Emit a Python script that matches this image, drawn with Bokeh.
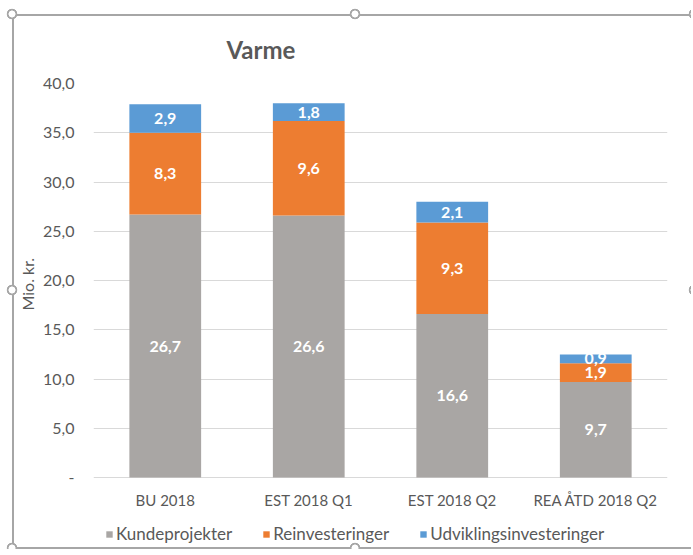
from bokeh.plotting import figure
from bokeh.models import ColumnDataSource, FixedTicker, Legend, LegendItem, Range1d, Title
from bokeh.core.properties import value
from bokeh.embed import file_html
from bokeh.resources import INLINE

# ---- data ----
categories = ["BU 2018", "EST 2018 Q1", "EST 2018 Q2", "REA ÅTD 2018 Q2"]
kundeprojekter = [26.7, 26.6, 16.6, 9.7]
reinvesteringer = [8.3, 9.6, 9.3, 1.9]
udviklingsinvesteringer = [2.9, 1.8, 2.1, 0.9]
series_names = ["Kundeprojekter", "Reinvesteringer", "Udviklingsinvesteringer"]
series_keys = ["kunde", "rein", "udv"]
colors = ["#A9A6A4", "#ED7D31", "#5B9BD5"]
y_ticks = [0, 5, 10, 15, 20, 25, 30, 35, 40]
title_text = "Varme"
y_label = "Mio. kr."

FONT = "Lato"
TXT = "#595959"
FRAME_C = "#a6a6a6"


def fmt(v):
    return f"{v:.1f}".replace(".", ",")


source = ColumnDataSource(dict(cat=categories, kunde=kundeprojekter,
                               rein=reinvesteringer, udv=udviklingsinvesteringer))

# frame extends below zero so that category labels and legend live inside it
p = figure(x_range=categories, y_range=Range1d(-6.9, 40),
           frame_width=574, frame_height=462,
           output_backend="svg", toolbar_location=None,
           min_border_left=93, min_border_right=24, min_border_top=83,
           min_border_bottom=4)
p.border_fill_color = None
p.background_fill_color = None

# chart-object selection frame (Excel style) drawn as host background
handle = ("radial-gradient(circle at {x}px {y}px, white 3.2px, {c} 3.8px, {c} 5px, "
          "transparent 5.6px)")
handles = [handle.format(x=x, y=y, c=FRAME_C) for x, y in
           [(12, 14), (355, 14), (694, 14), (12, 290), (694, 290),
            (12, 548), (355, 548)]]
line = f"linear-gradient({FRAME_C},{FRAME_C})"
p.styles = {
    "background-color": "white",
    "background-image": ", ".join(handles + [line, line, line]),
    "background-size": ", ".join(["100% 100%"] * len(handles) +
                                 ["2px 100%", "100% 2px", "100% 2px"]),
    "background-position": ", ".join(["0 0"] * len(handles) +
                                     ["12px 14px", "12px 14px", "12px 547px"]),
    "background-repeat": "no-repeat",
}

renderers = p.vbar_stack(series_keys, x="cat", width=0.5, color=colors,
                         line_color=None, source=source)

# data labels
lab_x, lab_y, lab_t = [], [], []
series_vals = [kundeprojekter, reinvesteringer, udviklingsinvesteringer]
for i, c in enumerate(categories):
    base = 0.0
    for vals in series_vals:
        v = vals[i]
        lab_x.append(c)
        lab_y.append(base + v / 2)
        lab_t.append(fmt(v))
        base += v
lsrc = ColumnDataSource(dict(x=lab_x, y=lab_y, t=lab_t))
p.text(x="x", y="y", text="t", source=lsrc, text_align="center",
       text_baseline="middle", text_color="white",
       text_font=value(FONT), text_font_size="16px", text_font_style="bold")

# category labels (x axis)
csrc = ColumnDataSource(dict(x=categories, y=[-2.33] * len(categories), t=categories))
p.text(x="x", y="y", text="t", source=csrc, text_align="center",
       text_baseline="middle", text_color=TXT,
       text_font=value(FONT), text_font_size="15px")
p.xaxis.visible = False

# title
p.title.text = title_text
p.title.align = "left"
p.title.offset = 133
p.title.text_font = FONT
p.title.text_font_size = "24px"
p.title.text_font_style = "bold"
p.title.text_color = TXT
p.title.standoff = 39

# y axis / grid
p.outline_line_color = None
p.xgrid.grid_line_color = None
p.ygrid.grid_line_color = "#D9D9D9"
p.ygrid.grid_line_width = 1

p.yaxis.ticker = FixedTicker(ticks=y_ticks)
p.yaxis.major_label_overrides = {t: ("-" if t == 0 else fmt(t)) for t in y_ticks}
p.yaxis.axis_line_color = None
p.yaxis.major_tick_line_color = None
p.yaxis.minor_tick_line_color = None
p.yaxis.major_label_text_font = FONT
p.yaxis.major_label_text_font_size = "16px"
p.yaxis.major_label_text_color = TXT
p.yaxis.major_label_standoff = 13

# y-axis title, placed along the 0..40 part of the frame
ylab = Title(text=y_label, align="left", offset=235, text_font=FONT,
             text_font_size="16px", text_font_style="normal", text_color=TXT,
             standoff=8)
p.add_layout(ylab, "left")

items = [LegendItem(label=n, renderers=[r]) for n, r in zip(series_names, renderers)]
legend = Legend(items=items, orientation="horizontal", location=(12, 1),
                glyph_width=8, glyph_height=8, label_standoff=3, spacing=30,
                label_height=20,
                label_text_font=FONT, label_text_font_size="17px",
                label_text_color=TXT, border_line_color=None, padding=2,
                margin=0, background_fill_alpha=0)
p.add_layout(legend, "center")

open("out.html", "w").write(file_html(p, INLINE))
